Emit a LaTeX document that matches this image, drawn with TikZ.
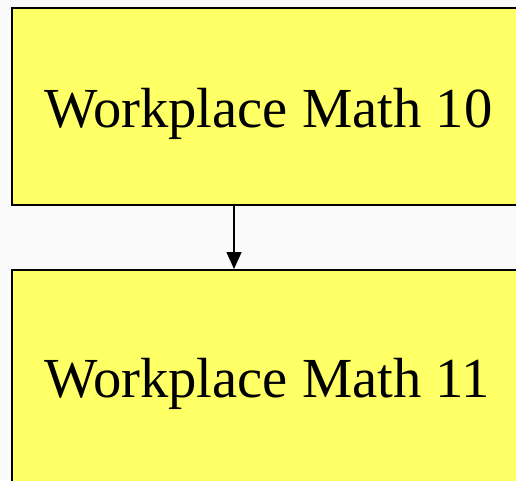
\documentclass[tikz,border=0pt]{standalone}
\usepackage{fontspec}
\setmainfont{Liberation Serif}
\usetikzlibrary{arrows.meta,calc}
\definecolor{bgc}{HTML}{FAFAFA}
\definecolor{boxy}{HTML}{FFFF66}
\begin{document}
\begin{tikzpicture}[x=1pt,y=-1pt,
  box/.style={draw=black,fill=boxy,line width=2pt,rectangle,inner sep=0pt,
    minimum width=516pt,anchor=north west},
  lbl/.style={font=\fontsize{56.6}{62}\selectfont,inner sep=0pt,anchor=base west},
  conn/.style={line width=1.5pt,-{Triangle[length=17pt,width=15pt]}}]
\useasboundingbox (0,0) rectangle (516,480);
\fill[bgc] (0,0) rectangle (516,480);
\clip (0,0) rectangle (516,480);
\node[box,minimum height=197pt] (top) at (10.5,7) {};
\node[box,minimum height=240pt] (bot) at (10.5,269) {};
\node[lbl] (t1) at (44,127) {Workplace Math 10};
\node[lbl] (t2) at (44,397) {Workplace Math 11};
\draw[conn] ($(top.south west)+(223.5,0)$) coordinate (a1) -- (bot.north -| a1);
\end{tikzpicture}
\end{document}
